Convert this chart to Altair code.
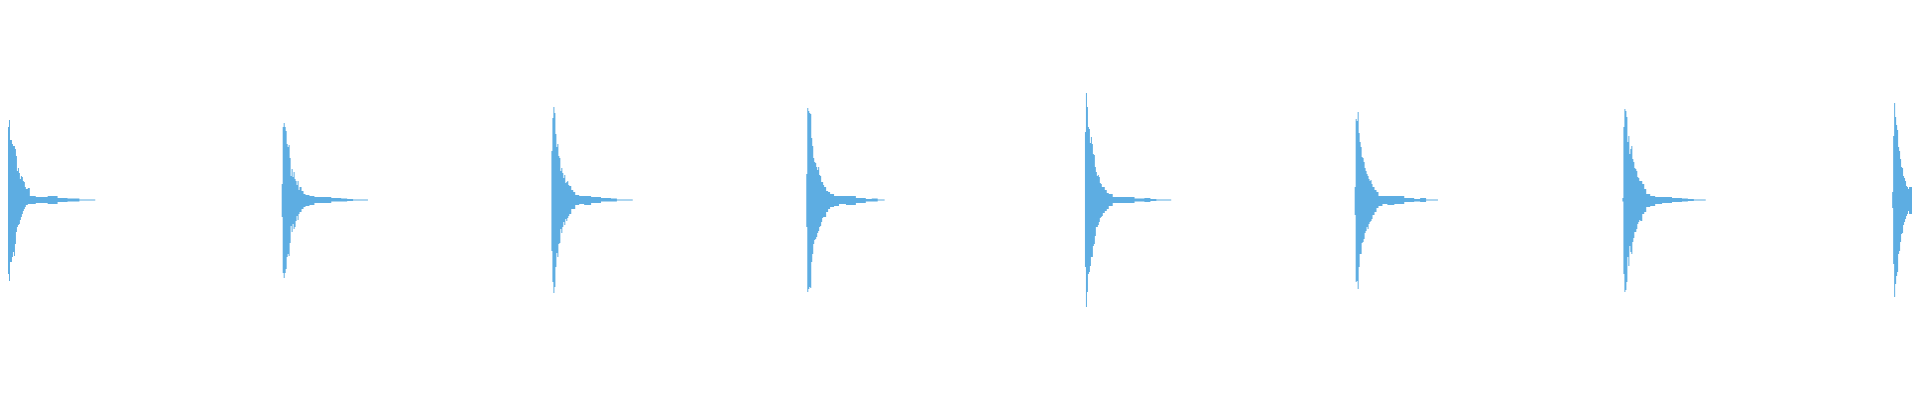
import altair as alt
import pandas as pd

# Column offsets (samples) at which each burst's envelope was read
offsets = [0, 1, 2, 3, 4, 5, 6, 7, 8, 9, 10, 11, 12, 13, 14, 15, 16, 17, 18,
           20, 22, 24, 28, 33, 40, 50, 60, 66, 72]

# Start sample and end sample (relative) of each burst
burst_start = [0, 276, 548, 805, 1086, 1358, 1628, 1900]
burst_end = [88, 87, 82, 79, 87, 84, 84, 20]

# Upper envelope (amplitude above zero) per burst
top_1 = [73, 80, 60, 60, 56, 54, 54, 51, 44, 29, 32, 27, 21, 24, 23, 19, 18, 13, 11,
         12, 4, 4, 3, 3, 4, 2, 1.5, 1.5, 0.5]
top_2 = [16, 73, 77, 73, 69, 56, 53, 55, 42, 24, 31, 23, 28, 21, 19, 15, 19, 10, 13,
         9, 6, 5, 4, 3, 3, 2, 1.5, 1, 0.5]
top_3 = [49, 82, 93, 87, 66, 53, 56, 44, 42, 29, 32, 27, 22, 25, 17, 18, 19, 15, 14,
         10, 8, 5, 4, 4, 3, 2, 1.5, 0.5, 0.5]
top_4 = [26, 92, 89, 87, 86, 62, 54, 42, 38, 37, 33, 30, 33, 25, 24, 18, 18, 15, 13,
         9, 8, 6, 4, 4, 4, 2, 1, 1.5, 0.5]
top_5 = [68, 107, 93, 73, 71, 57, 63, 56, 46, 45, 33, 28, 24, 25, 23, 17, 16, 13, 13,
         10, 7, 6, 3, 3, 3, 1.5, 2, 1, 0.5]
top_6 = [13, 81, 79, 88, 67, 58, 53, 43, 42, 38, 32, 29, 26, 24, 21, 19, 20, 16, 13,
         10, 8, 4, 4, 4, 4, 2, 1, 2, 0.5]
top_7 = [2, 73, 91, 89, 83, 58, 64, 46, 51, 54, 41, 38, 32, 31, 29, 23, 22, 19, 19,
         16, 11, 6, 4, 3, 3, 2, 1.5, 1, 0.5]
top_8 = [8, 64, 97, 83, 75, 70, 53, 49, 41, 33, 32, 24, 22, 19, 14, 13, 11, 13, 13]

# Lower envelope (amplitude below zero, as magnitude) per burst
bot_1 = [74, 81, 62, 62, 57, 52, 56, 44, 32, 27, 25, 24, 20, 17, 14, 11, 9, 7, 5,
         4, 4, 4, 3, 3, 4, 2, 1.5, 1.5, 0.5]
bot_2 = [17, 73, 78, 73, 69, 57, 54, 56, 43, 26, 32, 24, 29, 27, 21, 16, 20, 14, 12,
         9, 7, 6, 5, 3, 3, 1.5, 1.5, 1, 0.5]
bot_3 = [51, 82, 93, 87, 67, 53, 57, 44, 43, 29, 33, 27, 22, 25, 19, 21, 18, 16, 14,
         9, 9, 5, 4, 5, 3, 1.5, 1.5, 0.5, 0.5]
bot_4 = [27, 92, 89, 87, 88, 62, 54, 44, 40, 39, 37, 33, 31, 27, 26, 22, 18, 17, 17,
         12, 9, 7, 6, 4, 5, 3, 1.5, 1.5, 0.5]
bot_5 = [67, 107, 92, 74, 72, 66, 57, 57, 46, 44, 36, 27, 27, 25, 22, 18, 17, 16, 13,
         11, 9, 6, 3, 3, 3, 1.5, 2, 1, 0.5]
bot_6 = [15, 82, 81, 89, 67, 54, 54, 43, 42, 39, 33, 31, 27, 29, 24, 22, 21, 19, 15,
         12, 8, 6, 4, 5, 4, 2, 1.5, 2, 0.5]
bot_7 = [1.5, 74, 92, 90, 82, 57, 66, 46, 52, 54, 42, 38, 32, 32, 29, 24, 22, 20, 21,
         14, 12, 7, 6, 4, 3, 2, 1.5, 1, 0.5]
bot_8 = [8, 64, 97, 84, 76, 72, 54, 51, 42, 34, 33, 25, 22, 19, 16, 14, 11, 14, 14]

tops = [top_1, top_2, top_3, top_4, top_5, top_6, top_7, top_8]
bots = [bot_1, bot_2, bot_3, bot_4, bot_5, bot_6, bot_7, bot_8]

rows = []
for i, (s, e, tp, bt) in enumerate(zip(burst_start, burst_end, tops, bots)):
    for off, a, b in zip(offsets, tp, bt):
        rows.append({"burst": f"b{i}", "t": s + off, "hi": a, "lo": -b})
    rows.append({"burst": f"b{i}", "t": s + e, "hi": tp[-1], "lo": -bt[-1]})
df = pd.DataFrame(rows)

chart = (
    alt.Chart(df)
    .mark_area(interpolate="step-after", color="#5DADE2")
    .encode(
        x=alt.X("t:Q", scale=alt.Scale(domain=[0, 1920], nice=False, zero=False), axis=None),
        y=alt.Y("hi:Q", scale=alt.Scale(domain=[-192, 192], nice=False), axis=None, stack=None),
        y2=alt.Y2("lo:Q"),
        detail=alt.Detail("burst:N"),
    )
    .properties(width=1904, height=384, padding=0)
    .configure_view(stroke=None, strokeWidth=0)
)

chart.save("out.html", embed_options={"renderer": "svg", "actions": False})
